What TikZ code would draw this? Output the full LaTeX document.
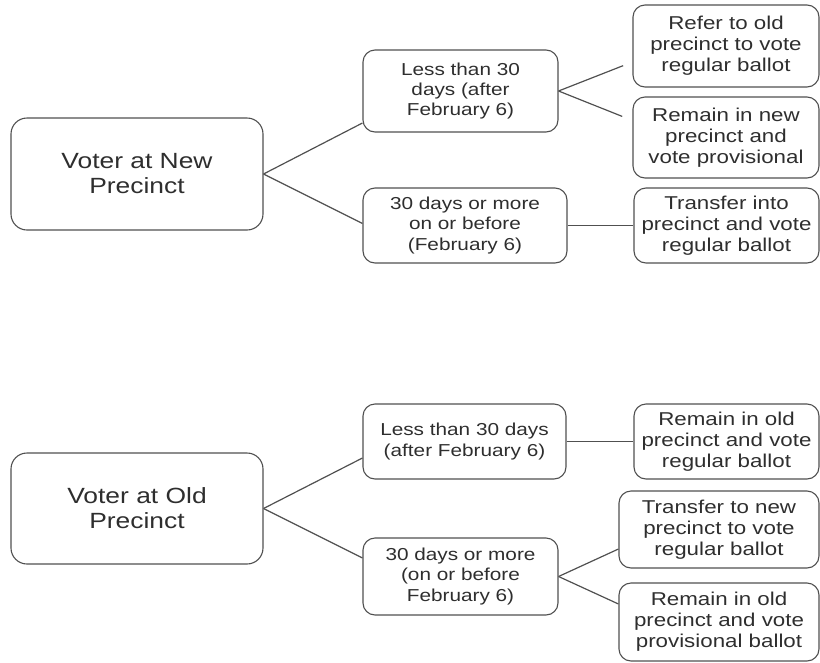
\documentclass[tikz,border=0pt]{standalone}
\usepackage{fontspec}
\setmainfont{Liberation Sans}[FakeStretch=1.2]
\definecolor{edge}{HTML}{505050}
\definecolor{txt}{HTML}{2E2E2E}
\tikzset{
  box/.style={draw=edge, line width=1.1pt, rounded corners=12pt, align=center,
    inner sep=0pt, text=txt, font=\fontsize{18.6}{21}\selectfont},
  midbox/.style={box, font=\fontsize{17.3}{20.2}\selectfont},
  bigbox/.style={box, rounded corners=16pt, font=\fontsize{22}{25}\selectfont},
  link/.style={draw=edge, line width=1.2pt},
}
\begin{document}
\begin{tikzpicture}[x=1pt,y=-1pt]
\useasboundingbox (0,0) rectangle (820,662);
% top tree
\node[bigbox, minimum width=252pt, minimum height=112pt] (newv) at (137,174) {Voter at New\\Precinct};
\node[midbox, minimum width=195pt, minimum height=82pt] (nless) at (460.5,91) {Less than 30\\days (after\\February 6)};
\node[midbox, minimum width=204pt, minimum height=75pt] (nmore) at (465,225.5) {30 days or more\\on or before\\(February 6)};
\node[box, minimum width=186pt, minimum height=82pt] (refer) at (726,46) {Refer to old\\precinct to vote\\regular ballot};
\node[box, minimum width=186pt, minimum height=81pt] (remnew) at (726,137.5) {Remain in new\\precinct and\\vote provisional};
\node[box, minimum width=185pt, minimum height=75pt] (transinto) at (726.5,225.5) {Transfer into\\precinct and vote\\regular ballot};
% bottom tree
\node[bigbox, minimum width=252pt, minimum height=111pt] (oldv) at (137,508.5) {Voter at Old\\Precinct};
\node[midbox, minimum width=203pt, minimum height=75pt] (oless) at (464.5,441.5) {Less than 30 days\\(after February 6)};
\node[midbox, minimum width=195pt, minimum height=77pt] (omore) at (460.5,576.5) {30 days or more\\(on or before\\February 6)};
\node[box, minimum width=185pt, minimum height=75pt] (remold) at (726.5,441.5) {Remain in old\\precinct and vote\\regular ballot};
\node[box, minimum width=200pt, minimum height=77pt] (transnew) at (719,529.5) {Transfer to new\\precinct to vote\\regular ballot};
\node[box, minimum width=200pt, minimum height=78pt] (remoldprov) at (719,622) {Remain in old\\precinct and vote\\provisional ballot};
% connectors top
\draw[link] (newv.east) -- ([yshift=-32pt]nless.west);
\draw[link] (newv.east) -- ([yshift=2pt]nmore.west);
\draw[link, shorten >=10pt] (nless.east) -- ([yshift=-16pt]refer.west);
\draw[link, shorten >=11pt] (nless.east) -- ([yshift=17pt]remnew.west);
\draw[link] (nmore.east) -- (transinto.west);
% connectors bottom
\draw[link] (oldv.east) -- ([yshift=-16.5pt]oless.west);
\draw[link] (oldv.east) -- ([yshift=18.5pt]omore.west);
\draw[link] (oless.east) -- (remold.west);
\draw[link] (omore.east) -- ([yshift=-19.5pt]transnew.west);
\draw[link] (omore.east) -- ([yshift=18pt]remoldprov.west);
\end{tikzpicture}
\end{document}
